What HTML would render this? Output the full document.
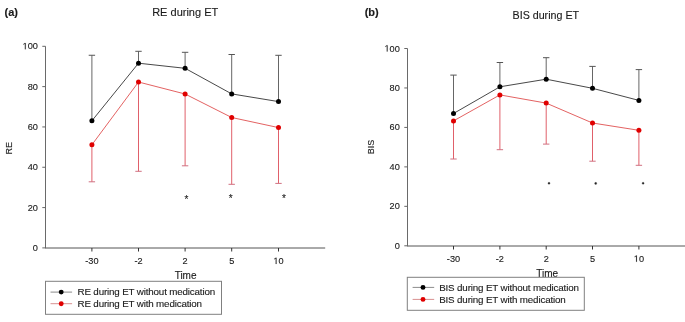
<!DOCTYPE html>
<html><head><meta charset="utf-8"><style>
html,body{margin:0;padding:0;background:#fff;}
body{width:685px;height:322px;overflow:hidden;}
svg{display:block;font-family:"Liberation Sans", sans-serif;will-change:transform;}
text{fill:#1a1a1a;stroke:#1a1a1a;stroke-width:0.12px;}
</style></head><body>
<svg width="685" height="322" viewBox="0 0 685 322">
<rect width="685" height="322" fill="#fff"/>
<line x1="45.5" y1="46.30" x2="45.5" y2="247.9" stroke="#6a6a6a" stroke-width="1"/>
<line x1="45.0" y1="248.0" x2="325.2" y2="248.0" stroke="#555" stroke-width="1"/>
<line x1="42.3" y1="247.90" x2="45.5" y2="247.90" stroke="#666" stroke-width="1"/>
<text x="37.9" y="250.90" text-anchor="end" font-size="9.2">0</text>
<line x1="42.3" y1="207.58" x2="45.5" y2="207.58" stroke="#666" stroke-width="1"/>
<text x="37.9" y="210.58" text-anchor="end" font-size="9.2">20</text>
<line x1="42.3" y1="167.26" x2="45.5" y2="167.26" stroke="#666" stroke-width="1"/>
<text x="37.9" y="170.26" text-anchor="end" font-size="9.2">40</text>
<line x1="42.3" y1="126.94" x2="45.5" y2="126.94" stroke="#666" stroke-width="1"/>
<text x="37.9" y="129.94" text-anchor="end" font-size="9.2">60</text>
<line x1="42.3" y1="86.62" x2="45.5" y2="86.62" stroke="#666" stroke-width="1"/>
<text x="37.9" y="89.62" text-anchor="end" font-size="9.2">80</text>
<line x1="42.3" y1="46.30" x2="45.5" y2="46.30" stroke="#666" stroke-width="1"/>
<path d="M515 0V1237L197 1010V1180L530 1409H696V0Z" transform="translate(22.55,49.30) scale(0.00449,-0.00449)" fill="#1a1a1a" stroke="#1a1a1a" stroke-width="26.7"/><text x="27.67" y="49.30" font-size="9.2">00</text>
<line x1="91.9" y1="248.0" x2="91.9" y2="251.5" stroke="#333" stroke-width="1"/>
<text x="91.9" y="264.00" text-anchor="middle" font-size="9.2">-30</text>
<line x1="138.5" y1="248.0" x2="138.5" y2="251.5" stroke="#333" stroke-width="1"/>
<text x="138.5" y="264.00" text-anchor="middle" font-size="9.2">-2</text>
<line x1="185.1" y1="248.0" x2="185.1" y2="251.5" stroke="#333" stroke-width="1"/>
<text x="185.1" y="264.00" text-anchor="middle" font-size="9.2">2</text>
<line x1="231.7" y1="248.0" x2="231.7" y2="251.5" stroke="#333" stroke-width="1"/>
<text x="231.7" y="264.00" text-anchor="middle" font-size="9.2">5</text>
<line x1="278.5" y1="248.0" x2="278.5" y2="251.5" stroke="#333" stroke-width="1"/>
<path d="M515 0V1237L197 1010V1180L530 1409H696V0Z" transform="translate(273.38,264.00) scale(0.00449,-0.00449)" fill="#1a1a1a" stroke="#1a1a1a" stroke-width="26.7"/><text x="278.50" y="264.00" font-size="9.2">0</text>
<line x1="91.9" y1="144.8" x2="91.9" y2="181.8" stroke="#e0606a" stroke-width="1"/>
<line x1="88.7" y1="181.8" x2="95.10000000000001" y2="181.8" stroke="#d07080" stroke-width="1"/>
<line x1="138.5" y1="82" x2="138.5" y2="171.3" stroke="#e0606a" stroke-width="1"/>
<line x1="135.3" y1="171.3" x2="141.7" y2="171.3" stroke="#d07080" stroke-width="1"/>
<line x1="185.1" y1="94" x2="185.1" y2="165.8" stroke="#e0606a" stroke-width="1"/>
<line x1="181.9" y1="165.8" x2="188.29999999999998" y2="165.8" stroke="#d07080" stroke-width="1"/>
<line x1="231.7" y1="117.5" x2="231.7" y2="184.3" stroke="#e0606a" stroke-width="1"/>
<line x1="228.5" y1="184.3" x2="234.89999999999998" y2="184.3" stroke="#d07080" stroke-width="1"/>
<line x1="278.5" y1="127.6" x2="278.5" y2="183.4" stroke="#e0606a" stroke-width="1"/>
<line x1="275.3" y1="183.4" x2="281.7" y2="183.4" stroke="#d07080" stroke-width="1"/>
<line x1="91.9" y1="120.8" x2="91.9" y2="55.25" stroke="#666" stroke-width="1"/>
<line x1="88.7" y1="55.25" x2="95.10000000000001" y2="55.25" stroke="#555" stroke-width="1"/>
<line x1="138.5" y1="63.2" x2="138.5" y2="51.3" stroke="#666" stroke-width="1"/>
<line x1="135.3" y1="51.3" x2="141.7" y2="51.3" stroke="#555" stroke-width="1"/>
<line x1="185.1" y1="68.3" x2="185.1" y2="52.3" stroke="#666" stroke-width="1"/>
<line x1="181.9" y1="52.3" x2="188.29999999999998" y2="52.3" stroke="#555" stroke-width="1"/>
<line x1="231.7" y1="93.9" x2="231.7" y2="54.5" stroke="#666" stroke-width="1"/>
<line x1="228.5" y1="54.5" x2="234.89999999999998" y2="54.5" stroke="#555" stroke-width="1"/>
<line x1="278.5" y1="101.6" x2="278.5" y2="55.3" stroke="#666" stroke-width="1"/>
<line x1="275.3" y1="55.3" x2="281.7" y2="55.3" stroke="#555" stroke-width="1"/>
<polyline fill="none" stroke="#e05050" stroke-width="0.9" points="91.9,144.8 138.5,82 185.1,94 231.7,117.5 278.5,127.6"/>
<polyline fill="none" stroke="#333" stroke-width="0.9" points="91.9,120.8 138.5,63.2 185.1,68.3 231.7,93.9 278.5,101.6"/>
<circle cx="91.9" cy="144.8" r="2.5" fill="#e00000"/>
<circle cx="138.5" cy="82" r="2.5" fill="#e00000"/>
<circle cx="185.1" cy="94" r="2.5" fill="#e00000"/>
<circle cx="231.7" cy="117.5" r="2.5" fill="#e00000"/>
<circle cx="278.5" cy="127.6" r="2.5" fill="#e00000"/>
<circle cx="91.9" cy="120.8" r="2.5" fill="#000"/>
<circle cx="138.5" cy="63.2" r="2.5" fill="#000"/>
<circle cx="185.1" cy="68.3" r="2.5" fill="#000"/>
<circle cx="231.7" cy="93.9" r="2.5" fill="#000"/>
<circle cx="278.5" cy="101.6" r="2.5" fill="#000"/>
<text x="186.5" y="202.60" text-anchor="middle" font-size="10" fill="#111">*</text>
<text x="230.8" y="202.30" text-anchor="middle" font-size="10" fill="#111">*</text>
<text x="284.0" y="202.30" text-anchor="middle" font-size="10" fill="#111">*</text>
<text x="185.2" y="15.5" text-anchor="middle" font-size="11">RE during ET</text>
<text x="4.6" y="15.5" font-size="11" font-weight="bold">(a)</text>
<text x="185.6" y="279.4" text-anchor="middle" font-size="10">Time</text>
<text transform="translate(9.1,148.3) rotate(-90)" x="0" y="3.3" text-anchor="middle" font-size="9">RE</text>
<rect x="45.5" y="281.3" width="176" height="33" fill="none" stroke="#808080" stroke-width="1"/>
<line x1="50.5" y1="292.1" x2="72.1" y2="292.1" stroke="#8c8c8c" stroke-width="1"/>
<circle cx="61.2" cy="292.1" r="2.45" fill="#000"/>
<text x="77.5" y="295.30" font-size="9.8" letter-spacing="-0.16">RE during ET without medication</text>
<line x1="50.5" y1="303.7" x2="72.1" y2="303.7" stroke="#d89090" stroke-width="1"/>
<circle cx="61.2" cy="303.7" r="2.45" fill="#e00000"/>
<text x="77.5" y="306.90" font-size="9.8" letter-spacing="-0.16">RE during ET with medication</text>
<line x1="407.5" y1="48.50" x2="407.5" y2="245.8" stroke="#6a6a6a" stroke-width="1"/>
<line x1="407.0" y1="246.0" x2="686" y2="246.0" stroke="#555" stroke-width="1"/>
<line x1="404.3" y1="245.80" x2="407.5" y2="245.80" stroke="#666" stroke-width="1"/>
<text x="399.8" y="248.80" text-anchor="end" font-size="9.2">0</text>
<line x1="404.3" y1="206.34" x2="407.5" y2="206.34" stroke="#666" stroke-width="1"/>
<text x="399.8" y="209.34" text-anchor="end" font-size="9.2">20</text>
<line x1="404.3" y1="166.88" x2="407.5" y2="166.88" stroke="#666" stroke-width="1"/>
<text x="399.8" y="169.88" text-anchor="end" font-size="9.2">40</text>
<line x1="404.3" y1="127.42" x2="407.5" y2="127.42" stroke="#666" stroke-width="1"/>
<text x="399.8" y="130.42" text-anchor="end" font-size="9.2">60</text>
<line x1="404.3" y1="87.96" x2="407.5" y2="87.96" stroke="#666" stroke-width="1"/>
<text x="399.8" y="90.96" text-anchor="end" font-size="9.2">80</text>
<line x1="404.3" y1="48.50" x2="407.5" y2="48.50" stroke="#666" stroke-width="1"/>
<path d="M515 0V1237L197 1010V1180L530 1409H696V0Z" transform="translate(384.45,51.50) scale(0.00449,-0.00449)" fill="#1a1a1a" stroke="#1a1a1a" stroke-width="26.7"/><text x="389.57" y="51.50" font-size="9.2">00</text>
<line x1="453.5" y1="246.0" x2="453.5" y2="249.5" stroke="#333" stroke-width="1"/>
<text x="453.5" y="261.80" text-anchor="middle" font-size="9.2">-30</text>
<line x1="499.9" y1="246.0" x2="499.9" y2="249.5" stroke="#333" stroke-width="1"/>
<text x="499.9" y="261.80" text-anchor="middle" font-size="9.2">-2</text>
<line x1="546.2" y1="246.0" x2="546.2" y2="249.5" stroke="#333" stroke-width="1"/>
<text x="546.2" y="261.80" text-anchor="middle" font-size="9.2">2</text>
<line x1="592.5" y1="246.0" x2="592.5" y2="249.5" stroke="#333" stroke-width="1"/>
<text x="592.5" y="261.80" text-anchor="middle" font-size="9.2">5</text>
<line x1="638.9" y1="246.0" x2="638.9" y2="249.5" stroke="#333" stroke-width="1"/>
<path d="M515 0V1237L197 1010V1180L530 1409H696V0Z" transform="translate(633.78,261.80) scale(0.00449,-0.00449)" fill="#1a1a1a" stroke="#1a1a1a" stroke-width="26.7"/><text x="638.90" y="261.80" font-size="9.2">0</text>
<line x1="453.5" y1="120.9" x2="453.5" y2="159" stroke="#e0606a" stroke-width="1"/>
<line x1="450.3" y1="159" x2="456.7" y2="159" stroke="#d07080" stroke-width="1"/>
<line x1="499.9" y1="94.9" x2="499.9" y2="149.7" stroke="#e0606a" stroke-width="1"/>
<line x1="496.7" y1="149.7" x2="503.09999999999997" y2="149.7" stroke="#d07080" stroke-width="1"/>
<line x1="546.2" y1="103.1" x2="546.2" y2="144.1" stroke="#e0606a" stroke-width="1"/>
<line x1="543.0" y1="144.1" x2="549.4000000000001" y2="144.1" stroke="#d07080" stroke-width="1"/>
<line x1="592.5" y1="123" x2="592.5" y2="161.2" stroke="#e0606a" stroke-width="1"/>
<line x1="589.3" y1="161.2" x2="595.7" y2="161.2" stroke="#d07080" stroke-width="1"/>
<line x1="638.9" y1="130.3" x2="638.9" y2="165.3" stroke="#e0606a" stroke-width="1"/>
<line x1="635.6999999999999" y1="165.3" x2="642.1" y2="165.3" stroke="#d07080" stroke-width="1"/>
<line x1="453.5" y1="113.5" x2="453.5" y2="75.1" stroke="#666" stroke-width="1"/>
<line x1="450.3" y1="75.1" x2="456.7" y2="75.1" stroke="#555" stroke-width="1"/>
<line x1="499.9" y1="86.8" x2="499.9" y2="62.5" stroke="#666" stroke-width="1"/>
<line x1="496.7" y1="62.5" x2="503.09999999999997" y2="62.5" stroke="#555" stroke-width="1"/>
<line x1="546.2" y1="79.2" x2="546.2" y2="57.7" stroke="#666" stroke-width="1"/>
<line x1="543.0" y1="57.7" x2="549.4000000000001" y2="57.7" stroke="#555" stroke-width="1"/>
<line x1="592.5" y1="88.3" x2="592.5" y2="66.4" stroke="#666" stroke-width="1"/>
<line x1="589.3" y1="66.4" x2="595.7" y2="66.4" stroke="#555" stroke-width="1"/>
<line x1="638.9" y1="100.4" x2="638.9" y2="69.6" stroke="#666" stroke-width="1"/>
<line x1="635.6999999999999" y1="69.6" x2="642.1" y2="69.6" stroke="#555" stroke-width="1"/>
<polyline fill="none" stroke="#e05050" stroke-width="0.9" points="453.5,120.9 499.9,94.9 546.2,103.1 592.5,123 638.9,130.3"/>
<polyline fill="none" stroke="#333" stroke-width="0.9" points="453.5,113.5 499.9,86.8 546.2,79.2 592.5,88.3 638.9,100.4"/>
<circle cx="453.5" cy="120.9" r="2.5" fill="#e00000"/>
<circle cx="499.9" cy="94.9" r="2.5" fill="#e00000"/>
<circle cx="546.2" cy="103.1" r="2.5" fill="#e00000"/>
<circle cx="592.5" cy="123" r="2.5" fill="#e00000"/>
<circle cx="638.9" cy="130.3" r="2.5" fill="#e00000"/>
<circle cx="453.5" cy="113.5" r="2.5" fill="#000"/>
<circle cx="499.9" cy="86.8" r="2.5" fill="#000"/>
<circle cx="546.2" cy="79.2" r="2.5" fill="#000"/>
<circle cx="592.5" cy="88.3" r="2.5" fill="#000"/>
<circle cx="638.9" cy="100.4" r="2.5" fill="#000"/>
<circle cx="549" cy="183.3" r="1.05" fill="#222" stroke="#444" stroke-width="0.6" stroke-opacity="0.5"/>
<circle cx="595.7" cy="183.4" r="1.05" fill="#222" stroke="#444" stroke-width="0.6" stroke-opacity="0.5"/>
<circle cx="643.1" cy="183.3" r="1.05" fill="#222" stroke="#444" stroke-width="0.6" stroke-opacity="0.5"/>
<text x="545.8" y="18.6" text-anchor="middle" font-size="10.7">BIS during ET</text>
<text x="364.7" y="15.5" font-size="11" font-weight="bold">(b)</text>
<text x="547.2" y="277" text-anchor="middle" font-size="10">Time</text>
<text transform="translate(370.8,147) rotate(-90)" x="0" y="3.3" text-anchor="middle" font-size="9">BIS</text>
<rect x="407.3" y="277.3" width="177" height="33.0" fill="none" stroke="#808080" stroke-width="1"/>
<line x1="412.6" y1="287.4" x2="434.2" y2="287.4" stroke="#8c8c8c" stroke-width="1"/>
<circle cx="423" cy="287.4" r="2.45" fill="#000"/>
<text x="439.2" y="290.60" font-size="9.8" letter-spacing="-0.16">BIS during ET without medication</text>
<line x1="412.6" y1="299.4" x2="434.2" y2="299.4" stroke="#d89090" stroke-width="1"/>
<circle cx="423" cy="299.4" r="2.45" fill="#e00000"/>
<text x="439.2" y="302.60" font-size="9.8" letter-spacing="-0.16">BIS during ET with medication</text>
</svg>
</body></html>
